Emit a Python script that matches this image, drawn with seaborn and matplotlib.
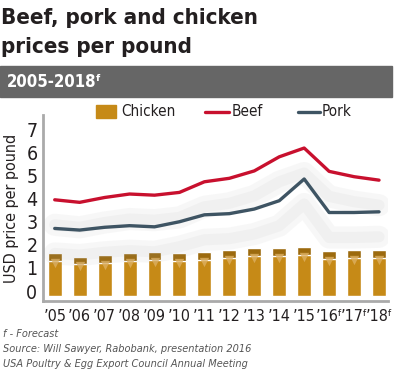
import numpy as np
import pandas as pd
import matplotlib
matplotlib.use("Agg")
import matplotlib.pyplot as plt
import matplotlib.patheffects as pe
from matplotlib import font_manager
import seaborn as sns

# values (USD per pound)
years = ["’05", "’06", "’07", "’08", "’09", "’10", "’11", "’12", "’13", "’14",
         "’15", "’16ᶠ", "’17ᶠ", "’18ᶠ"]
chicken = [1.63, 1.49, 1.56, 1.63, 1.67, 1.65, 1.67, 1.77, 1.86, 1.86, 1.90, 1.73, 1.76, 1.76]
beef = [3.95, 3.84, 4.05, 4.20, 4.15, 4.27, 4.73, 4.88, 5.20, 5.81, 6.19, 5.18, 4.95, 4.80]
pork = [2.71, 2.64, 2.76, 2.83, 2.78, 3.00, 3.30, 3.35, 3.55, 3.91, 4.85, 3.40, 3.40, 3.43]

df = pd.DataFrame({"year": years, "Chicken": chicken, "Beef": beef, "Pork": pork})
df["pos"] = np.arange(len(df))

sns.set_style("white")

# pick a narrow face if one is installed
fonts = font_manager.fontManager.ttflist
names = {f.name for f in fonts}
stretch = "normal"
if "Liberation Sans Narrow" in names:
    family = ["Liberation Sans Narrow", "DejaVu Sans"]
elif any("Condensed" in f.fname and f.name == "DejaVu Sans" for f in fonts):
    family = ["DejaVu Sans"]
    stretch = "condensed"
else:
    family = ["Roboto", "DejaVu Sans"]
plt.rcParams["font.family"] = family
plt.rcParams["font.stretch"] = stretch

fig = plt.figure(figsize=(4.0, 3.72), dpi=100)
W, H = 400, 372


def px(x, y):
    return x / W, 1 - y / H


dark = "#231f20"
# title + banner
fig.text(*px(1, 18), "Beef, pork and chicken", fontsize=16, fontweight="bold",
         color=dark, va="center", ha="left")
fig.text(*px(1, 47), "prices per pound", fontsize=16, fontweight="bold",
         color=dark, va="center", ha="left")
fig.patches.append(plt.Rectangle(px(0, 97), 392 / W, 31 / H, transform=fig.transFigure,
                                 color="#666666", zorder=0))
fig.text(*px(7, 82), "2005-2018ᶠ", fontsize=12, fontweight="bold", color="white",
         va="center", ha="left")

ax = fig.add_axes([43 / W, (H - 301) / H, 345 / W, 186 / H])

bar_col = "#c68a17"
sns.barplot(data=df, x="year", y="Chicken", color=bar_col, width=0.56, saturation=1,
            ax=ax, zorder=2)
for p in ax.patches:
    p.set_height(p.get_height() + 0.2)
    p.set_y(-0.2)
# darker top cap and light notch on each bar
ax.bar(df["pos"], 0.33, bottom=df["Chicken"] - 0.33, width=0.56, color="#9c6a0e", zorder=3)
ax.scatter(df["pos"], df["Chicken"] - 0.42, marker="v", s=45, color="#ddb062",
           linewidths=0, alpha=0.8, zorder=3)

shadow = [pe.SimpleLineShadow(offset=(0, -18), shadow_color="#999999", alpha=0.07,
                              linewidth=16),
          pe.SimpleLineShadow(offset=(0, -18), shadow_color="#999999", alpha=0.07,
                              linewidth=8), pe.Normal()]
sns.lineplot(data=df, x="pos", y="Beef", color="#c8102e", linewidth=2.4, ax=ax,
             zorder=4, path_effects=shadow)
sns.lineplot(data=df, x="pos", y="Pork", color="#3e5463", linewidth=2.4, ax=ax,
             zorder=4, path_effects=shadow)

ax.set_xlim(-0.47, 13.36)
ax.set_ylim(-0.43, 7.62)
ax.set_yticks(range(0, 8))
ax.set_xticks(df["pos"])
ax.set_xticklabels(years)
ax.tick_params(axis="both", length=0, colors=dark)
ax.tick_params(axis="y", pad=4, labelsize=14)
ax.tick_params(axis="x", pad=6, labelsize=11.5)
ax.set_xlabel("")
ax.set_ylabel("USD price per pound", fontsize=11.5, color=dark, labelpad=5)
for s in ["top", "right"]:
    ax.spines[s].set_visible(False)
for s in ["left", "bottom"]:
    ax.spines[s].set_color("#aaaaaa")
    ax.spines[s].set_linewidth(2)

# legend drawn by hand in figure space
fig.patches.append(plt.Rectangle(px(96, 118), 20 / W, 13 / H, transform=fig.transFigure,
                                 color=bar_col))
fig.text(*px(121, 112), "Chicken", fontsize=11, color=dark, va="center")
fig.lines.append(plt.Line2D([205 / W, 229 / W], [1 - 112 / H] * 2, color="#c8102e",
                            lw=2.4, transform=fig.transFigure))
fig.text(*px(232, 112), "Beef", fontsize=11, color=dark, va="center")
fig.lines.append(plt.Line2D([298 / W, 320 / W], [1 - 112 / H] * 2, color="#3e5463",
                            lw=2.4, transform=fig.transFigure))
fig.text(*px(322, 112), "Pork", fontsize=11, color=dark, va="center")

# footnotes
notes = ["f - Forecast", "Source: Will Sawyer, Rabobank, presentation 2016",
         "USA Poultry & Egg Export Council Annual Meeting"]
for i, t in enumerate(notes):
    fig.text(*px(3, 334 + 15 * i), t, fontsize=7.8, style="italic", color="#555555",
             va="center")

fig.savefig("out.png", dpi=100)
